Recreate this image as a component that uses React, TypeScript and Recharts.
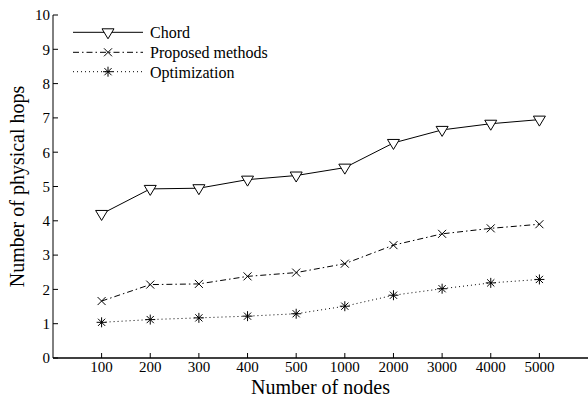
import React from "react";
import { LineChart, Line, XAxis, YAxis } from "recharts";

// Hop count vs network size, three routing schemes
const nodes = ["100", "200", "300", "400", "500", "1000", "2000", "3000", "4000", "5000"];
const chord = [4.2, 4.93, 4.95, 5.2, 5.32, 5.55, 6.27, 6.65, 6.83, 6.95];
const proposed = [1.66, 2.14, 2.16, 2.38, 2.49, 2.75, 3.29, 3.62, 3.78, 3.9];
const optimization = [1.04, 1.12, 1.17, 1.22, 1.29, 1.51, 1.83, 2.02, 2.19, 2.29];
const yTicks = [0, 1, 2, 3, 4, 5, 6, 7, 8, 9, 10];
const seriesNames = ["Chord", "Proposed methods", "Optimization"];

const FONT = '"Liberation Serif", "Times New Roman", serif';
const W = 588;
const H = 398;
const PAD = 48.6; // half-step gap before first / after last category

const data = nodes.map((n, i) => ({
  nodes: n,
  chord: chord[i],
  proposed: proposed[i],
  optimization: optimization[i],
}));

// ---- markers ---------------------------------------------------------------
function Tri({ cx, cy }: { cx: number; cy: number }) {
  return (
    <path
      d={`M${cx - 6},${cy - 3.5} L${cx + 6},${cy - 3.5} L${cx},${cy + 6.5} Z`}
      fill="#fff"
      stroke="#000"
      strokeWidth={1}
    />
  );
}

function Cross({ cx, cy }: { cx: number; cy: number }) {
  const r = 4;
  return (
    <g stroke="#000" strokeWidth={1}>
      <line x1={cx - r} y1={cy - r} x2={cx + r} y2={cy + r} />
      <line x1={cx - r} y1={cy + r} x2={cx + r} y2={cy - r} />
    </g>
  );
}

function Star({ cx, cy }: { cx: number; cy: number }) {
  const r = 5;
  const d = 3.6;
  return (
    <g stroke="#000" strokeWidth={1}>
      <line x1={cx - r} y1={cy} x2={cx + r} y2={cy} />
      <line x1={cx} y1={cy - r} x2={cx} y2={cy + r} />
      <line x1={cx - d} y1={cy - d} x2={cx + d} y2={cy + d} />
      <line x1={cx - d} y1={cy + d} x2={cx + d} y2={cy - d} />
    </g>
  );
}

const dotFn = (M: typeof Tri, tag: string) => (p: any) =>
  p.cx == null ? <g key={`${tag}-${p.index}`} /> : (
    <g key={`${tag}-${p.index}`}>
      <M cx={p.cx} cy={p.cy} />
    </g>
  );

const legendRows = [
  { y: 32.3, dash: undefined as string | undefined, M: Tri },
  { y: 52.3, dash: "6 3 1.5 3", M: Cross },
  { y: 71.7, dash: "1 3", M: Star },
];

export default function App() {
  const tickStyle = { fill: "#000", fontSize: 15, fontFamily: FONT };
  return (
    <div style={{ position: "absolute", left: 0, top: 0, width: W, height: H, background: "#fff" }}>
      <LineChart width={W} height={H} data={data} margin={{ top: 15, right: 0, bottom: 0, left: 0 }}>
        <XAxis
          xAxisId="b"
          dataKey="nodes"
          height={40}
          padding={{ left: PAD, right: PAD }}
          interval={0}
          axisLine={{ stroke: "#000", strokeWidth: 1.5 }}
          tickLine={{ stroke: "#000" }}
          tickSize={-5}
          tickMargin={8.5}
          tick={tickStyle}
          label={{
            value: "Number of nodes",
            position: "insideBottom",
            offset: 4.5,
            style: { fontSize: 20, fill: "#000", fontFamily: FONT },
          }}
        />
        <XAxis
          xAxisId="t"
          orientation="top"
          dataKey="nodes"
          height={0}
          padding={{ left: PAD, right: PAD }}
          interval={0}
          axisLine={{ stroke: "#000" }}
          tickLine={{ stroke: "#000" }}
          tickSize={-5}
          tickFormatter={() => ""}
        />
        <YAxis
          yAxisId="l"
          width={53}
          domain={[0, 10]}
          ticks={yTicks}
          interval={0}
          axisLine={{ stroke: "#000" }}
          tickLine={{ stroke: "#000" }}
          tickSize={-5}
          tickMargin={8}
          tick={tickStyle}
          label={{
            value: "Number of physical hops",
            angle: -90,
            position: "insideLeft",
            offset: 17,
            style: { fontSize: 20, fill: "#000", fontFamily: FONT, textAnchor: "middle" },
          }}
        />
        <YAxis
          yAxisId="r"
          orientation="right"
          width={0}
          domain={[0, 10]}
          ticks={yTicks}
          interval={0}
          axisLine={false}
          tickLine={{ stroke: "#000" }}
          tickSize={-5}
          tickFormatter={() => ""}
        />
        <Line
          xAxisId="b"
          yAxisId="l"
          dataKey="chord"
          stroke="#000"
          strokeWidth={1}
          dot={dotFn(Tri, "c")}
          activeDot={false}
          isAnimationActive={false}
        />
        <Line
          xAxisId="b"
          yAxisId="l"
          dataKey="proposed"
          stroke="#000"
          strokeWidth={1}
          strokeDasharray="6 3 1.5 3"
          dot={dotFn(Cross, "p")}
          activeDot={false}
          isAnimationActive={false}
        />
        <Line
          xAxisId="b"
          yAxisId="l"
          dataKey="optimization"
          stroke="#000"
          strokeWidth={1}
          strokeDasharray="1 3"
          dot={dotFn(Star, "o")}
          activeDot={false}
          isAnimationActive={false}
        />
      </LineChart>

      {/* legend, no box */}
      <svg
        width={W}
        height={100}
        style={{ position: "absolute", left: 0, top: 0, pointerEvents: "none" }}
      >
        {legendRows.map((r, i) => (
          <g key={seriesNames[i]}>
            <line x1={73} x2={143} y1={r.y} y2={r.y} stroke="#000" strokeWidth={1} strokeDasharray={r.dash} />
            <r.M cx={108} cy={r.y} />
            <text x={150} y={r.y + 6} fontSize={16} fontFamily={FONT} fill="#000">
              {seriesNames[i]}
            </text>
          </g>
        ))}
      </svg>
    </div>
  );
}
